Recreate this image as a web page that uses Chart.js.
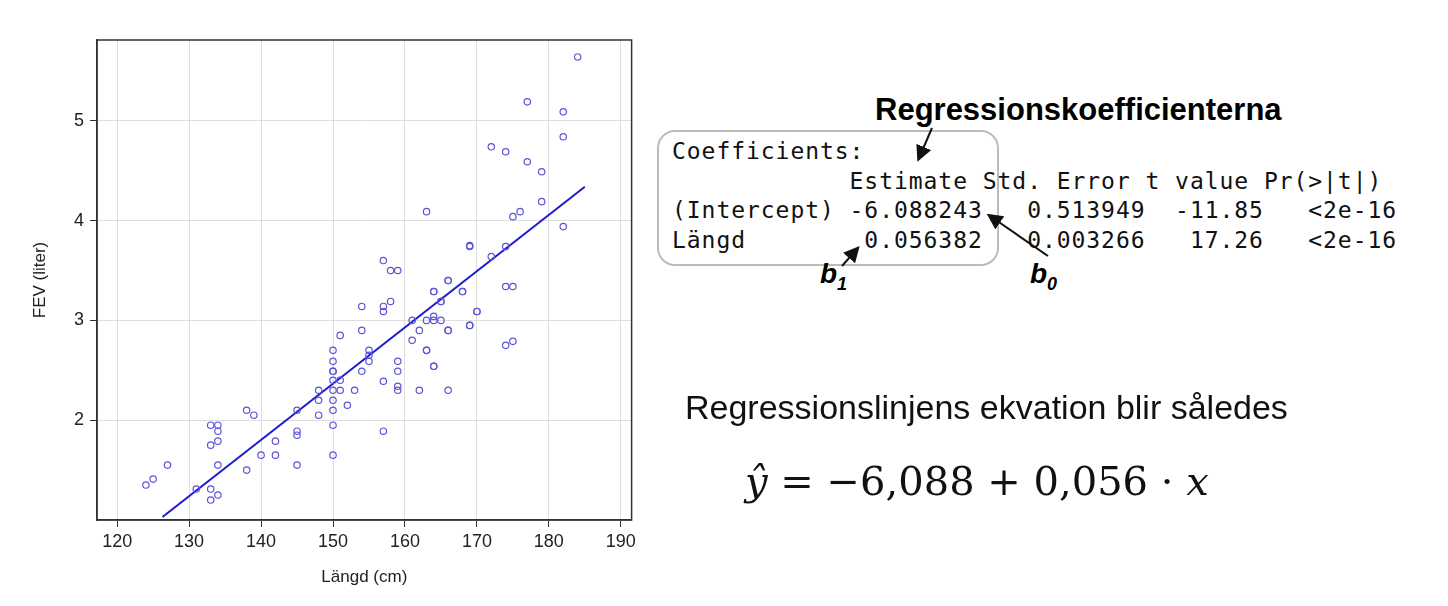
<!DOCTYPE html>
<html><head><meta charset="utf-8">
<script src="https://cdn.jsdelivr.net/npm/chart.js@4/dist/chart.umd.min.js"></script>
<style>
body{margin:0;background:#fff;width:1448px;height:606px;overflow:hidden;position:relative;font-family:"Liberation Sans",Arial,sans-serif}
#wrap{position:absolute;left:0;top:0;width:640px;height:606px}
.t{position:absolute;white-space:pre}
.mono{font-family:"DejaVu Sans Mono",monospace;font-size:23px;letter-spacing:0.95px;color:#111}
</style></head><body>
<div id="wrap"><canvas id="c"></canvas></div>
<div class="t" style="left:875px;top:92px;font-family:'Liberation Sans Narrow','Liberation Sans';font-weight:bold;font-size:31px">Regressionskoefficienterna</div>
<div style="position:absolute;left:657px;top:130px;width:338px;height:132px;border:2px solid #bbb;border-radius:18px"></div>
<div class="t mono" style="left:672px;top:137px;line-height:29.5px">Coefficients:
            Estimate Std. Error t value Pr(>|t|)
(Intercept) -6.088243   0.513949  -11.85   &lt;2e-16
Längd        0.056382   0.003266   17.26   &lt;2e-16</div>
<div class="t" style="left:820px;top:258px;font-weight:bold;font-style:italic;font-size:28px">b<sub style="font-size:18px">1</sub></div>
<div class="t" style="left:1030px;top:258px;font-weight:bold;font-style:italic;font-size:28px">b<sub style="font-size:18px">0</sub></div>
<svg style="position:absolute;left:0;top:0" width="1448" height="606">
<defs><marker id="a" markerWidth="8" markerHeight="8" refX="6" refY="4" orient="auto"><path d="M0,0 L8,4 L0,8 z" fill="#111"/></marker></defs>
<line x1="932" y1="128" x2="919" y2="158" stroke="#111" stroke-width="2" marker-end="url(#a)"/>
<line x1="1048" y1="256" x2="990" y2="216" stroke="#111" stroke-width="2" marker-end="url(#a)"/>
<line x1="842" y1="266" x2="857" y2="249" stroke="#111" stroke-width="2" marker-end="url(#a)"/>
</svg>
<div class="t" style="left:685px;top:388px;font-size:34px;color:#111">Regressionslinjens ekvation blir således</div>
<div class="t" style="left:745px;top:458px;font-family:'DejaVu Serif','Liberation Serif',serif;font-size:40px;color:#111"><i>ŷ</i> = −6,088 + 0,056 · <i>x</i></div>
<script>
const heights=[124,125,127,131,133,134,134,134,133,134,133,134,133,138,139,138,140,142,142,145,145,145,145,
169,157,158,159,166,164,168,165,158,157,157,154,170,161,163,164,165,164,154,162,166,169,151,161,150,155,155,163,150,155,159,
150,150,154,159,164,150,151,157,159,159,162,166,148,150,151,153,148,150,152,148,150,150,157,150,
184,177,182,182,172,174,177,179,179,176,175,163,182,169,174,172,166,164,168,165,174,175,170,169,166,163,164,174,175];
const fev=[1.35,1.41,1.55,1.31,1.95,1.95,1.89,1.79,1.75,1.55,1.31,1.25,1.20,2.10,2.05,1.50,1.65,1.79,1.65,2.10,1.89,1.85,1.55,
3.75,3.60,3.50,3.50,3.40,3.29,3.29,3.19,3.19,3.14,3.09,3.14,3.09,3.00,3.00,3.00,3.00,3.04,2.90,2.90,2.90,2.95,2.85,2.80,2.70,2.70,2.65,2.70,2.59,2.59,2.59,
2.49,2.49,2.49,2.49,2.54,2.40,2.40,2.39,2.34,2.30,2.30,2.30,2.30,2.30,2.30,2.30,2.20,2.20,2.15,2.05,2.10,1.95,1.89,1.65,
5.64,5.19,5.09,4.84,4.74,4.69,4.59,4.49,4.19,4.09,4.04,4.09,3.94,3.74,3.74,3.64,3.40,3.29,3.29,3.19,3.34,3.34,3.09,2.95,2.90,2.70,2.54,2.75,2.79];
const lineX=[126.3,185];
const lineY=[1.03,4.34];
const xTicks=[120,130,140,150,160,170,180,190];
const yTicks=[2,3,4,5];
new Chart(document.getElementById('c'),{
 data:{datasets:[
  {type:'scatter',data:heights.map((h,i)=>({x:h,y:fev[i]})),pointStyle:'circle',radius:3.2,borderWidth:1.2,borderColor:'#5b55d6',backgroundColor:'rgba(0,0,0,0)'},
  {type:'line',data:lineX.map((x,i)=>({x:x,y:lineY[i]})),borderColor:'#1a1ad0',borderWidth:2,pointRadius:0}
 ]},
 options:{responsive:true,maintainAspectRatio:false,animation:false,
  layout:{padding:{top:40,right:8,left:26,bottom:14}},
  plugins:{legend:{display:false},tooltip:{enabled:false}},
  scales:{
   x:{type:'linear',min:117.2,max:191.5,afterBuildTicks:s=>{s.ticks=xTicks.map(v=>({value:v}))},
      afterFit:s=>{s.height=72},
      grid:{color:'#dedede',tickColor:'#333',tickLength:7,drawTicks:true},border:{color:'#333',width:1.5},
      ticks:{color:'#222',font:{size:18,family:'Liberation Sans'},padding:4},
      title:{display:true,text:'Längd (cm)',color:'#222',font:{size:17,family:'Liberation Sans'},padding:{top:8}}},
   y:{type:'linear',min:1.0,max:5.81,afterBuildTicks:s=>{s.ticks=yTicks.map(v=>({value:v}))},
      afterFit:s=>{s.width=71},
      grid:{color:'#dedede',tickColor:'#333',tickLength:7},border:{color:'#333',width:1.5},
      ticks:{color:'#222',font:{size:18,family:'Liberation Sans'},padding:6},
      title:{display:true,text:'FEV (liter)',color:'#222',font:{size:17,family:'Liberation Sans'},padding:{bottom:4}}}
  }},
 plugins:[{id:'frame',afterDraw(c){const a=c.chartArea,x=c.ctx;x.save();x.strokeStyle='#333';x.lineWidth=1.5;x.strokeRect(a.left,a.top,a.right-a.left,a.bottom-a.top);x.restore();}}]
});
</script></body></html>
